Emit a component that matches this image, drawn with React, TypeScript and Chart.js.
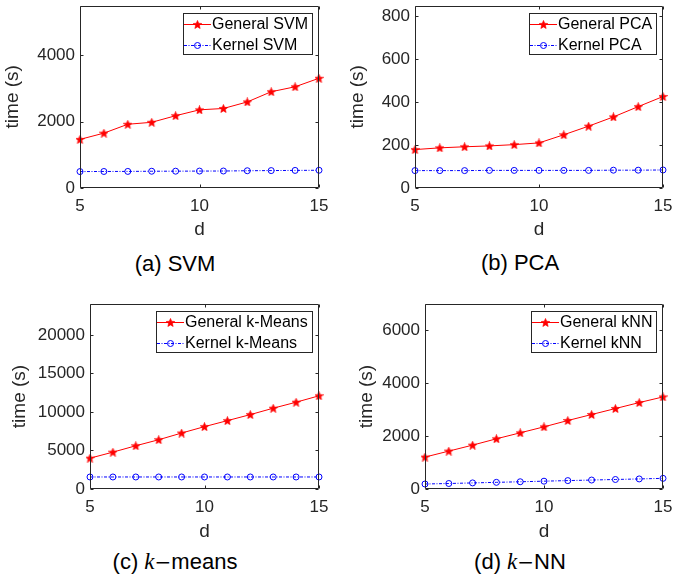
import React, { useEffect, useRef } from 'react';
import { Chart, registerables } from 'chart.js';

Chart.register(...registerables);

// ---------------- data ----------------
const dValues = [5, 6, 7, 8, 9, 10, 11, 12, 13, 14, 15];
const xTicks = [5, 10, 15];

const svmGeneral = [1465, 1653, 1921, 1980, 2178, 2356, 2396, 2594, 2901, 3050, 3307];
const svmKernel = [495, 498, 500, 505, 507, 510, 512, 520, 525, 530, 535];
const svmYTicks = [0, 2000, 4000];

const pcaGeneral = [179, 187, 192, 196, 202, 210, 248, 288, 331, 379, 426];
const pcaKernel = [81, 81, 81, 82, 82, 82, 82, 82, 83, 83, 84];
const pcaYTicks = [0, 200, 400, 600, 800];

const kmeansGeneral = [4000, 4780, 5610, 6390, 7260, 8090, 8870, 9650, 10480, 11260, 12090];
const kmeansKernel = [1560, 1560, 1560, 1560, 1560, 1560, 1560, 1560, 1560, 1560, 1560];
const kmeansYTicks = [0, 5000, 10000, 15000, 20000];

const knnGeneral = [1208, 1434, 1660, 1899, 2126, 2352, 2591, 2818, 3044, 3270, 3484];
const knnKernel = [189, 208, 230, 252, 274, 296, 318, 339, 360, 381, 403];
const knnYTicks = [0, 2000, 4000, 6000];

// ---------------- style ----------------
const FONT = "'Liberation Sans', Arial, Helvetica, sans-serif";
const AXIS_COLOR = '#262626';
const RED = '#ff0000';
const BLUE = '#0000ff';

type Panel = {
  key: string;
  canvas: { left: number; top: number; width: number; height: number };
  plot: { left: number; top: number; right: number; bottom: number };
  yMax: number;
  yTicks: number[];
  general: number[];
  kernel: number[];
  labels: [string, string];
  yTitlePad: number;
  xTitlePad: number;
};

const panels: Panel[] = [
  {
    key: 'a',
    canvas: { left: 0, top: 0, width: 345, height: 245 },
    plot: { left: 80, top: 3, right: 319, bottom: 188 },
    yMax: 5500, yTicks: svmYTicks, general: svmGeneral, kernel: svmKernel,
    labels: ['General SVM', 'Kernel SVM'], yTitlePad: 1, xTitlePad: 4,
  },
  {
    key: 'b',
    canvas: { left: 345, top: 0, width: 352, height: 245 },
    plot: { left: 415, top: 3, right: 663, bottom: 188 },
    yMax: 850, yTicks: pcaYTicks, general: pcaGeneral, kernel: pcaKernel,
    labels: ['General PCA', 'Kernel PCA'], yTitlePad: 1, xTitlePad: 4,
  },
  {
    key: 'c',
    canvas: { left: 0, top: 290, width: 345, height: 255 },
    plot: { left: 90, top: 304, right: 319, bottom: 489 },
    yMax: 24000, yTicks: kmeansYTicks, general: kmeansGeneral, kernel: kmeansKernel,
    labels: ['General k-Means', 'Kernel k-Means'], yTitlePad: 8, xTitlePad: 2,
  },
  {
    key: 'd',
    canvas: { left: 345, top: 290, width: 352, height: 255 },
    plot: { left: 425, top: 304, right: 663, bottom: 489 },
    yMax: 7000, yTicks: knnYTicks, general: knnGeneral, kernel: knnKernel,
    labels: ['General kNN', 'Kernel kNN'], yTitlePad: 10, xTitlePad: 2,
  },
];

function makeStar(size: number, color: string): HTMLCanvasElement {
  const c = document.createElement('canvas');
  c.width = size;
  c.height = size;
  const g = c.getContext('2d')!;
  const cx = size / 2;
  const cy = size / 2 + 0.4;
  const R = size / 2;
  const r = R * 0.45;
  g.beginPath();
  for (let i = 0; i < 10; i++) {
    const a = -Math.PI / 2 + (i * Math.PI) / 5;
    const rad = i % 2 === 0 ? R : r;
    g.lineTo(cx + rad * Math.cos(a), cy + rad * Math.sin(a));
  }
  g.closePath();
  g.fillStyle = color;
  g.fill();
  g.strokeStyle = color;
  g.lineWidth = 0.6;
  g.stroke();
  return c;
}

const boxPlugin = {
  id: 'matlabBox',
  afterDatasetsDraw(chart: any) {
    const { ctx, chartArea, scales } = chart;
    const { left, top, right, bottom } = chartArea;
    const tl = 3;
    ctx.save();
    ctx.strokeStyle = AXIS_COLOR;
    ctx.lineWidth = 1;
    const L = Math.round(left) + 0.5;
    const R = Math.round(right) - 0.5;
    const T = Math.round(top) + 0.5;
    const B = Math.round(bottom) - 0.5;
    ctx.beginPath();
    ctx.rect(L, T, R - L, B - T);
    ctx.stroke();
    ctx.beginPath();
    for (const t of scales.x.ticks) {
      const px = Math.round(scales.x.getPixelForValue(t.value)) + 0.5;
      ctx.moveTo(px, B);
      ctx.lineTo(px, B - tl);
      ctx.moveTo(px, T);
      ctx.lineTo(px, T + tl);
    }
    for (const t of scales.y.ticks) {
      const py = Math.round(scales.y.getPixelForValue(t.value)) + 0.5;
      ctx.moveTo(L, py);
      ctx.lineTo(L + tl, py);
      ctx.moveTo(R, py);
      ctx.lineTo(R - tl, py);
    }
    ctx.stroke();
    ctx.restore();
  },
};

const legendPlugin = {
  id: 'matlabLegend',
  afterDraw(chart: any) {
    const { ctx, chartArea } = chart;
    const sets = chart.data.datasets;
    ctx.save();
    ctx.font = `16px ${FONT}`;
    let textW = 0;
    for (const ds of sets) textW = Math.max(textW, ctx.measureText(ds.label).width);
    const sample = 29;
    const w = Math.round(sample + textW + 5);
    const h = 42;
    const x0 = Math.round(chartArea.right) - 6 - w;
    const y0 = Math.round(chartArea.top) + 7;
    ctx.fillStyle = '#ffffff';
    ctx.fillRect(x0, y0, w, h);
    ctx.strokeStyle = AXIS_COLOR;
    ctx.lineWidth = 1;
    ctx.strokeRect(x0 + 0.5, y0 + 0.5, w - 1, h - 1);
    sets.forEach((ds: any, i: number) => {
      const cy = y0 + 11.5 + i * 21;
      ctx.save();
      ctx.strokeStyle = ds.borderColor;
      ctx.lineWidth = 1;
      ctx.setLineDash(ds.borderDash || []);
      ctx.beginPath();
      ctx.moveTo(x0 + 1, cy);
      ctx.lineTo(x0 + sample - 1, cy);
      ctx.stroke();
      ctx.setLineDash([]);
      const mx = x0 + sample / 2;
      if (ds.pointStyle instanceof HTMLCanvasElement) {
        const img = ds.pointStyle;
        ctx.drawImage(img, mx - img.width / 2, cy - img.height / 2);
      } else {
        ctx.beginPath();
        ctx.arc(mx, cy, ds.pointRadius, 0, Math.PI * 2);
        ctx.strokeStyle = ds.pointBorderColor;
        ctx.stroke();
      }
      ctx.restore();
      ctx.fillStyle = '#000000';
      ctx.textBaseline = 'middle';
      ctx.textAlign = 'left';
      ctx.fillText(ds.label, x0 + sample, cy + 0.5);
    });
    ctx.restore();
  },
};

function ChartPanel({ p }: { p: Panel }) {
  const ref = useRef<HTMLCanvasElement | null>(null);
  useEffect(() => {
    const canvas = ref.current;
    if (!canvas) return;
    const star = makeStar(9, RED);
    const { canvas: cv, plot } = p;
    const chart = new Chart(canvas, {
      type: 'line',
      data: {
        datasets: [
          {
            label: p.labels[0],
            data: dValues.map((d, i) => ({ x: d, y: p.general[i] })),
            borderColor: RED,
            backgroundColor: RED,
            borderWidth: 1,
            pointStyle: star as any,
            pointRadius: 4.5,
            clip: false as any,
            tension: 0,
          },
          {
            label: p.labels[1],
            data: dValues.map((d, i) => ({ x: d, y: p.kernel[i] })),
            borderColor: BLUE,
            backgroundColor: 'rgba(0,0,0,0)',
            pointBorderColor: BLUE,
            pointBackgroundColor: 'rgba(0,0,0,0)',
            borderWidth: 1,
            borderDash: [3, 1.5, 1, 1.5],
            pointStyle: 'circle',
            pointRadius: 3,
            pointBorderWidth: 1,
            clip: false as any,
            tension: 0,
          },
        ],
      },
      options: {
        animation: false,
        responsive: false,
        devicePixelRatio: 1,
        events: [],
        layout: {
          padding: {
            left: 0,
            top: plot.top - cv.top,
            right: cv.left + cv.width - plot.right,
            bottom: 0,
          },
        },
        plugins: {
          legend: { display: false },
          tooltip: { enabled: false },
        },
        scales: {
          x: {
            type: 'linear',
            min: 5,
            max: 15,
            afterBuildTicks: (s: any) => {
              s.ticks = xTicks.map((v) => ({ value: v }));
            },
            afterFit: (s: any) => {
              s.height = cv.top + cv.height - plot.bottom;
              s.paddingLeft = 0;
              s.paddingRight = 0;
            },
            grid: { display: false, drawTicks: false },
            border: { display: false },
            ticks: {
              color: AXIS_COLOR,
              font: { family: FONT, size: 17 },
              padding: 8,
              maxRotation: 0,
              autoSkip: false,
            },
            title: {
              display: true,
              text: 'd',
              color: AXIS_COLOR,
              font: { family: FONT, size: 19 },
              padding: { top: 0, bottom: p.xTitlePad },
            },
          },
          y: {
            type: 'linear',
            min: 0,
            max: p.yMax,
            afterBuildTicks: (s: any) => {
              s.ticks = p.yTicks.map((v) => ({ value: v }));
            },
            afterFit: (s: any) => {
              s.width = plot.left - cv.left;
              s.paddingTop = 0;
              s.paddingBottom = 0;
            },
            grid: { display: false, drawTicks: false },
            border: { display: false },
            ticks: {
              color: AXIS_COLOR,
              font: { family: FONT, size: 17 },
              padding: 5,
              autoSkip: false,
              callback: (v: any) => String(v),
            },
            title: {
              display: true,
              text: 'time (s)',
              color: AXIS_COLOR,
              font: { family: FONT, size: 19 },
              padding: { top: p.yTitlePad, bottom: 0 },
            },
          },
        },
      },
      plugins: [boxPlugin, legendPlugin],
    } as any);
    return () => chart.destroy();
  }, [p]);
  return (
    <canvas
      ref={ref}
      width={p.canvas.width}
      height={p.canvas.height}
      style={{
        position: 'absolute',
        left: p.canvas.left,
        top: p.canvas.top,
        width: p.canvas.width,
        height: p.canvas.height,
      }}
    />
  );
}

const captionStyle = (cx: number, cy: number): React.CSSProperties => ({
  position: 'absolute',
  left: cx - 150,
  top: cy - 14,
  width: 300,
  height: 28,
  lineHeight: '28px',
  textAlign: 'center',
  fontFamily: FONT,
  fontSize: 22,
  color: '#000',
  whiteSpace: 'nowrap',
});

const kStyle: React.CSSProperties = {
  fontFamily: "'Liberation Serif', 'DejaVu Serif', serif",
  fontStyle: 'italic',
  fontSize: 23,
};
const minusStyle: React.CSSProperties = {
  fontFamily: "'DejaVu Sans', sans-serif",
  fontSize: 20,
};

export default function App() {
  return (
    <div
      style={{
        position: 'absolute',
        left: 0,
        top: 0,
        width: 697,
        height: 581,
        background: '#ffffff',
        overflow: 'hidden',
      }}
    >
      {panels.map((p) => (
        <ChartPanel key={p.key} p={p} />
      ))}
      <div style={captionStyle(175, 264)}>(a) SVM</div>
      <div style={captionStyle(520, 263)}>(b) PCA</div>
      <div style={captionStyle(175, 562)}>
        (c) <span style={kStyle}>k</span>
        <span style={minusStyle}>−</span>means
      </div>
      <div style={captionStyle(520, 562)}>
        (d) <span style={kStyle}>k</span>
        <span style={minusStyle}>−</span>NN
      </div>
    </div>
  );
}
